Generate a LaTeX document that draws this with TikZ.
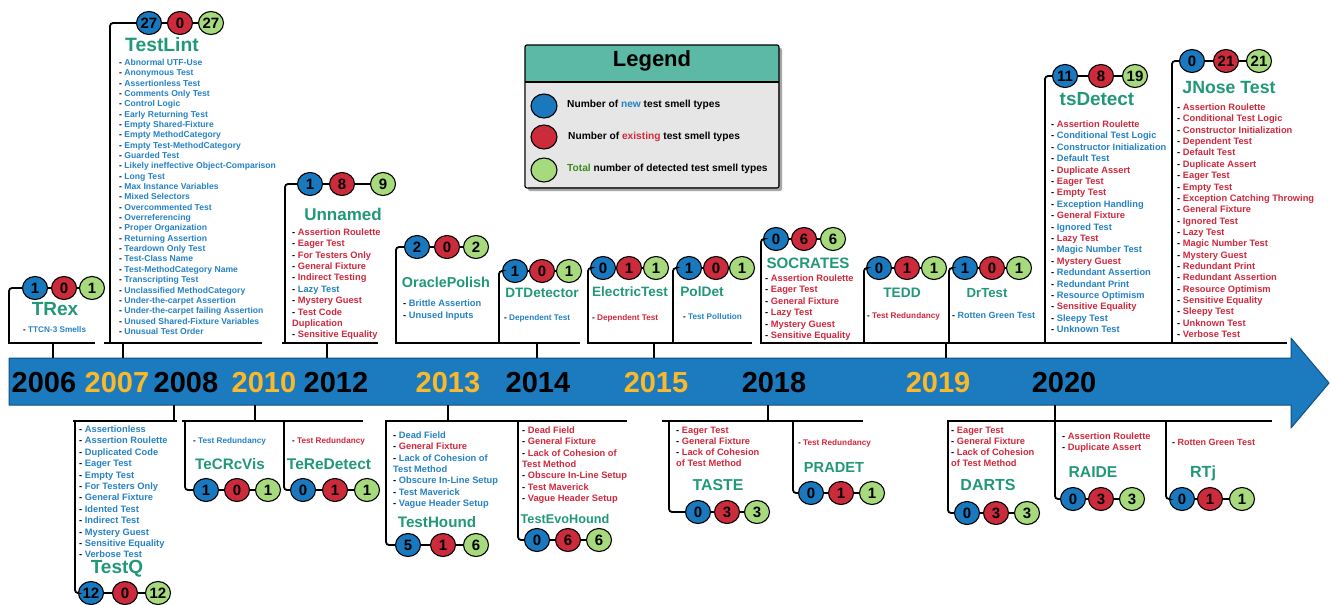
\documentclass[tikz,border=0pt]{standalone}
\usepackage{fontspec}
\setmainfont{Liberation Sans}
\usetikzlibrary{shapes.geometric}
\definecolor{cblue}{HTML}{1A78BE}
\definecolor{cred}{HTML}{CC2B3B}
\definecolor{cgreen}{HTML}{A7D97D}
\definecolor{tb}{HTML}{2581C4}
\definecolor{tr}{HTML}{D0283C}
\definecolor{tg}{HTML}{219877}
\definecolor{yr}{HTML}{FBB829}
\definecolor{arrowblue}{HTML}{1B7BBE}
\definecolor{arrowdark}{HTML}{0F4F80}
\definecolor{lghead}{HTML}{5CB9A5}
\definecolor{lgbody}{HTML}{E6E6E6}
\definecolor{lggreen}{HTML}{3C8C1E}
\newcommand{\fsz}[2]{\fontsize{#1}{#2}\selectfont\bfseries}
\newcommand{\itb}[1]{- \textcolor{tb}{#1}}
\newcommand{\itr}[1]{- \textcolor{tr}{#1}}
\newcommand{\trio}[8]{%
  \node[cb] (#1-a) at (#3,#2) {#6};
  \node[cr] (#1-b) at (#4,#2) {#7};
  \node[cg] (#1-c) at (#5,#2) {#8};
  \draw[link] (#1-a) -- (#1-b);
  \draw[link] (#1-b) -- (#1-c);
}
\newcommand{\brk}[3]{%
  \coordinate (#1-k) at (#2,#3);
  \draw[brkline] (#1-a.west) -| (#1-k);
}
\begin{document}
\begin{tikzpicture}[x=1pt,y=-1pt,
  circ/.style={ellipse, draw=black, line width=1.1pt, minimum width=25pt, minimum height=23pt, inner sep=0pt, font=\fsz{15}{15}},
  cb/.style={circ, fill=cblue},
  cr/.style={circ, fill=cred},
  cg/.style={circ, fill=cgreen},
  link/.style={line width=1.4pt},
  brkline/.style={line width=1.8pt, rounded corners=3pt},
  baseline/.style={line width=2.8pt},
  stubline/.style={line width=1.8pt},
  items/.style={anchor=north west, inner sep=0pt, align=left},
  ttl/.style={text=tg, inner sep=0pt},
  year/.style={inner sep=0pt, font=\fsz{29}{29}},
  lgtext/.style={anchor=west, inner sep=0pt, text height=7.3pt, text depth=0pt, font=\fsz{10.2}{12}}
]
\useasboundingbox (0,0) rectangle (1331,605);

% ---------- timeline arrow ----------
\draw[fill=arrowblue, draw=arrowdark, line width=1pt, line join=round]
  (9,358) -- (1291,358) -- (1291,338) -- (1329,383) -- (1291,428) -- (1291,405) -- (9,405) -- cycle;
\coordinate (tlTop) at (0,358);
\coordinate (tlBot) at (0,405);

\node[year] (y2006) at (44,383) {2006};
\node[year, text=yr] (y2007) at (117,383) {2007};
\node[year] (y2008) at (186,383) {2008};
\node[year, text=yr] (y2010) at (264,383) {2010};
\node[year] (y2012) at (336,383) {2012};
\node[year, text=yr] (y2013) at (448,383) {2013};
\node[year] (y2014) at (538,383) {2014};
\node[year, text=yr] (y2015) at (656,383) {2015};
\node[year] (y2018) at (774,383) {2018};
\node[year, text=yr] (y2019) at (938,383) {2019};
\node[year] (y2020) at (1064,383) {2020};

% ---------- top base lines and stubs ----------
\foreach \n/\l/\r/\s in {t1/8/95/53, t2/104/262/123, t3/282/378/327, t4/395/580/537, t5/587/752/654, t6/760/1287/946}{
  \coordinate (\n-l) at (\l,343);
  \coordinate (\n-r) at (\r,343);
  \coordinate (\n-s) at (\s,343);
  \draw[baseline] (\n-l) -- (\n-r);
  \draw[stubline] (\n-s) -- (\n-s |- tlTop);
}
% ---------- bottom base lines and stubs ----------
\foreach \n/\l/\r/\s in {b1/73/177/174, b2/182/363/255, b3/385/627/448, b4/662/863/768, b5/947/1272/1055}{
  \coordinate (\n-l) at (\l,421);
  \coordinate (\n-r) at (\r,421);
  \coordinate (\n-s) at (\s,421);
  \draw[baseline] (\n-l) -- (\n-r);
  \draw[stubline] (\n-s) -- (\n-s |- tlBot);
}

% ---------- legend ----------
\fill[black!35, rounded corners=2pt] (528,48) rectangle (782,191);
\path[fill=lghead] (525,45) rectangle (779,82);
\fill[lgbody] (525.6,82.6) rectangle (778.4,187.4);
\draw[line width=1.2pt] (525,82) -- (779,82);
\draw[line width=1.2pt, rounded corners=2pt] (525,45) rectangle (779,188);
\node[inner sep=0pt, font=\fsz{22}{22}] (lg-title) at (652,61) {Legend};
\node[circ, fill=cblue, minimum width=26pt, minimum height=24pt] (lg1) at (544,106) {};
\node[circ, fill=cred, minimum width=26pt, minimum height=24pt] (lg2) at (544,137) {};
\node[circ, fill=cgreen, minimum width=26pt, minimum height=24pt] (lg3) at (544,170) {};
\node[lgtext] (lg1t) at (567,104) {Number of \textcolor{tb}{new} test smell types};
\node[lgtext] (lg2t) at (568,136) {Number of \textcolor{tr}{existing} test smell types};
\node[lgtext] (lg3t) at (567,168) {\textcolor{lggreen}{Total} number of detected test smell types};

% ================= TOP =================
% TRex
\trio{trex}{288}{35}{64}{92}{1}{0}{1}
\brk{trex}{9}{343}
\node[ttl, font=\fsz{19}{19}] (trex-t) at (55,309) {TRex};
\node[items, font=\fsz{8.2}{10}] (trex-i) at (23,326.05) {\itb{TTCN-3 Smells}};

% TestLint
\trio{tlint}{23}{149}{180}{211}{27}{0}{27}
\brk{tlint}{110}{343}
\node[ttl, font=\fsz{19.3}{19.3}] (tlint-t) at (162,44.5) {TestLint};
\node[items, font=\fsz{8.6}{10.35}] (tlint-i) at (119,58.9) {%
\itb{Abnormal UTF-Use}\\ \itb{Anonymous Test}\\ \itb{Assertionless Test}\\ \itb{Comments Only Test}\\
\itb{Control Logic}\\ \itb{Early Returning Test}\\ \itb{Empty Shared-Fixture}\\ \itb{Empty MethodCategory}\\
\itb{Empty Test-MethodCategory}\\ \itb{Guarded Test}\\ \itb{Likely ineffective Object-Comparison}\\ \itb{Long Test}\\
\itb{Max Instance Variables}\\ \itb{Mixed Selectors}\\ \itb{Overcommented Test}\\ \itb{Overreferencing}\\
\itb{Proper Organization}\\ \itb{Returning Assertion}\\ \itb{Teardown Only Test}\\ \itb{Test-Class Name}\\
\itb{Test-MethodCategory Name}\\ \itb{Transcripting Test}\\ \itb{Unclassified MethodCategory}\\ \itb{Under-the-carpet Assertion}\\
\itb{Under-the-carpet failing Assertion}\\ \itb{Unused Shared-Fixture Variables}\\ \itb{Unusual Test Order}};

% Unnamed
\trio{unn}{184}{310}{342}{383}{1}{8}{9}
\brk{unn}{285}{343}
\node[ttl, font=\fsz{17}{17}] (unn-t) at (343,214) {Unnamed};
\node[items, font=\fsz{9.3}{11.35}] (unn-i) at (292,228.65) {%
\itr{Assertion Roulette}\\ \itr{Eager Test}\\ \itr{For Testers Only}\\ \itr{General Fixture}\\
\itr{Indirect Testing}\\ \itb{Lazy Test}\\ \itr{Mystery Guest}\\ \itr{Test Code}\\ \textcolor{tr}{Duplication}\\
\itr{Sensitive Equality}};

% OraclePolish
\trio{orp}{247}{417}{447}{476}{2}{0}{2}
\brk{orp}{396}{343}
\node[ttl, font=\fsz{14.4}{14.4}] (orp-t) at (446,282) {OraclePolish};
\node[items, font=\fsz{9.3}{11.7}] (orp-i) at (403,299.65) {\itb{Brittle Assertion}\\ \itb{Unused Inputs}};

% DTDetector
\trio{dtd}{271}{515}{542}{569}{1}{0}{1}
\brk{dtd}{499}{343}
\node[ttl, font=\fsz{13.6}{13.6}] (dtd-t) at (542,293) {DTDetector};
\node[items, font=\fsz{8.2}{10}] (dtd-i) at (504,314.05) {\itb{Dependent Test}};

% ElectricTest
\trio{elt}{268}{603}{629}{656}{0}{1}{1}
\brk{elt}{588}{343}
\node[ttl, font=\fsz{13.5}{13.5}] (elt-t) at (630,292) {ElectricTest};
\node[items, font=\fsz{8.2}{10}] (elt-i) at (592,314.05) {\itr{Dependent Test}};

% PolDet
\trio{pold}{268}{689}{716}{742}{1}{0}{1}
\brk{pold}{673}{343}
\node[ttl, font=\fsz{13.7}{13.7}] (pold-t) at (702,292) {PolDet};
\node[items, font=\fsz{8.2}{10}] (pold-i) at (683,313.05) {\itb{Test Pollution}};

% SOCRATES
\trio{soc}{239}{776}{804}{833}{0}{6}{6}
\brk{soc}{761}{343}
\node[ttl, font=\fsz{15.1}{15.1}] (soc-t) at (808,263) {SOCRATES};
\node[items, font=\fsz{9.3}{11.4}] (soc-i) at (765,274.65) {%
\itr{Assertion Roulette}\\ \itr{Eager Test}\\ \itr{General Fixture}\\ \itr{Lazy Test}\\
\itr{Mystery Guest}\\ \itr{Sensitive Equality}};

% TEDD
\trio{tedd}{268}{879}{907}{934}{0}{1}{1}
\brk{tedd}{864}{343}
\node[ttl, font=\fsz{13.7}{13.7}] (tedd-t) at (902,293) {TEDD};
\node[items, font=\fsz{8.2}{10}] (tedd-i) at (867,312.05) {\itr{Test Redundancy}};

% DrTest
\trio{drt}{268}{965}{992}{1019}{1}{0}{1}
\brk{drt}{949}{343}
\node[ttl, font=\fsz{13.2}{13.2}] (drt-t) at (987,293) {DrTest};
\node[items, font=\fsz{9}{11}] (drt-i) at (952,311.76) {\itb{Rotten Green Test}};

% tsDetect
\trio{tsd}{76}{1065}{1101}{1135}{11}{8}{19}
\brk{tsd}{1045}{343}
\node[ttl, font=\fsz{18.9}{18.9}] (tsd-t) at (1097,99) {tsDetect};
\node[items, font=\fsz{9.3}{11.4}] (tsd-i) at (1051,120.65) {%
\itr{Assertion Roulette}\\ \itb{Conditional Test Logic}\\ \itb{Constructor Initialization}\\ \itb{Default Test}\\
\itr{Duplicate Assert}\\ \itr{Eager Test}\\ \itr{Empty Test}\\ \itb{Exception Handling}\\
\itr{General Fixture}\\ \itb{Ignored Test}\\ \itr{Lazy Test}\\ \itb{Magic Number Test}\\
\itr{Mystery Guest}\\ \itb{Redundant Assertion}\\ \itb{Redundant Print}\\ \itb{Resource Optimism}\\
\itr{Sensitive Equality}\\ \itb{Sleepy Test}\\ \itb{Unknown Test}};

% JNose Test
\trio{jn}{61}{1192}{1226}{1259}{0}{21}{21}
\brk{jn}{1172}{343}
\node[ttl, font=\fsz{17.7}{17.7}] (jn-t) at (1229,87) {JNose Test};
\node[items, font=\fsz{9.3}{11.35}] (jn-i) at (1177,103.65) {%
\itr{Assertion Roulette}\\ \itr{Conditional Test Logic}\\ \itr{Constructor Initialization}\\ \itr{Dependent Test}\\
\itr{Default Test}\\ \itr{Duplicate Assert}\\ \itr{Eager Test}\\ \itr{Empty Test}\\
\itr{Exception Catching Throwing}\\ \itr{General Fixture}\\ \itr{Ignored Test}\\ \itr{Lazy Test}\\
\itr{Magic Number Test}\\ \itr{Mystery Guest}\\ \itr{Redundant Print}\\ \itr{Redundant Assertion}\\
\itr{Resource Optimism}\\ \itr{Sensitive Equality}\\ \itr{Sleepy Test}\\ \itr{Unknown Test}\\ \itr{Verbose Test}};

% ================= BOTTOM =================
% TestQ
\trio{tq}{593}{91}{125}{158}{12}{0}{12}
\brk{tq}{75}{421}
\node[ttl, font=\fsz{19}{19}] (tq-t) at (117,569) {TestQ};
\node[items, font=\fsz{9.3}{11.4}] (tq-i) at (79,425.65) {%
\itb{Assertionless}\\ \itb{Assertion Roulette}\\ \itb{Duplicated Code}\\ \itb{Eager Test}\\
\itb{Empty Test}\\ \itb{For Testers Only}\\ \itb{General Fixture}\\ \itb{Idented Test}\\
\itb{Indirect Test}\\ \itb{Mystery Guest}\\ \itb{Sensitive Equality}\\ \itb{Verbose Test}};

% TeCRcVis
\trio{tcr}{490}{206}{237}{268}{1}{0}{1}
\brk{tcr}{185}{421}
\node[ttl, font=\fsz{15.2}{15.2}] (tcr-t) at (230,464) {TeCRcVis};
\node[items, font=\fsz{8.2}{10}] (tcr-i) at (193,437.05) {\itb{Test Redundancy}};

% TeReDetect
\trio{trd}{490}{303}{335}{367}{0}{1}{1}
\brk{trd}{284}{421}
\node[ttl, font=\fsz{15.5}{15.5}] (trd-t) at (329,464) {TeReDetect};
\node[items, font=\fsz{8.2}{10}] (trd-i) at (292,437.05) {\itr{Test Redundancy}};

% TestHound
\trio{th}{545}{408}{443}{476}{5}{1}{6}
\brk{th}{386}{421}
\node[ttl, font=\fsz{15.2}{15.2}] (th-t) at (437,522) {TestHound};
\node[items, font=\fsz{9.3}{11.3}] (th-i) at (393,431.65) {%
\itb{Dead Field}\\ \itr{General Fixture}\\ \itb{Lack of Cohesion of}\\ \textcolor{tb}{Test Method}\\
\itb{Obscure In-Line Setup}\\ \itb{Test Maverick}\\ \itb{Vague Header Setup}};

% TestEvoHound
\trio{teh}{540}{537}{568}{599}{0}{6}{6}
\brk{teh}{518}{421}
\node[ttl, font=\fsz{12.7}{12.7}] (teh-t) at (565,519) {TestEvoHound};
\node[items, font=\fsz{9.3}{11.3}] (teh-i) at (522,426.65) {%
\itr{Dead Field}\\ \itr{General Fixture}\\ \itr{Lack of Cohesion of}\\ \textcolor{tr}{Test Method}\\
\itr{Obscure In-Line Setup}\\ \itr{Test Maverick}\\ \itr{Vague Header Setup}};

% TASTE
\trio{tas}{512}{698}{727}{757}{0}{3}{3}
\brk{tas}{669}{421}
\node[ttl, font=\fsz{15.8}{15.8}] (tas-t) at (718,485) {TASTE};
\node[items, font=\fsz{9.3}{11}] (tas-i) at (676,426.65) {%
\itr{Eager Test}\\ \itr{General Fixture}\\ \itr{Lack of Cohesion}\\ \textcolor{tr}{of Test Method}};

% PRADET
\trio{prd}{493}{811}{841}{872}{0}{1}{1}
\brk{prd}{793}{421}
\node[ttl, font=\fsz{14.6}{14.6}] (prd-t) at (834,467) {PRADET};
\node[items, font=\fsz{8.2}{10}] (prd-i) at (798,439.05) {\itr{Test Redundancy}};

% DARTS
\trio{drs}{513}{967}{996}{1027}{0}{3}{3}
\brk{drs}{948}{421}
\node[ttl, font=\fsz{16}{16}] (drs-t) at (988,485) {DARTS};
\node[items, font=\fsz{9.3}{11}] (drs-i) at (951,426.65) {%
\itr{Eager Test}\\ \itr{General Fixture}\\ \itr{Lack of Cohesion}\\ \textcolor{tr}{of Test Method}};

% RAIDE
\trio{rai}{499}{1073}{1101}{1132}{0}{3}{3}
\brk{rai}{1055}{421}
\node[ttl, font=\fsz{15.7}{15.7}] (rai-t) at (1093,472) {RAIDE};
\node[items, font=\fsz{9.3}{11}] (rai-i) at (1062,432.65) {\itr{Assertion Roulette}\\ \itr{Duplicate Assert}};

% RTj
\trio{rtj}{499}{1182}{1210}{1242}{0}{1}{1}
\brk{rtj}{1166}{421}
\node[ttl, font=\fsz{16.1}{16.1}, text depth=0pt] (rtj-t) at (1203,472) {RTj};
\node[items, font=\fsz{9}{11}] (rtj-i) at (1172,438.76) {\itr{Rotten Green Test}};

\end{tikzpicture}
\end{document}
